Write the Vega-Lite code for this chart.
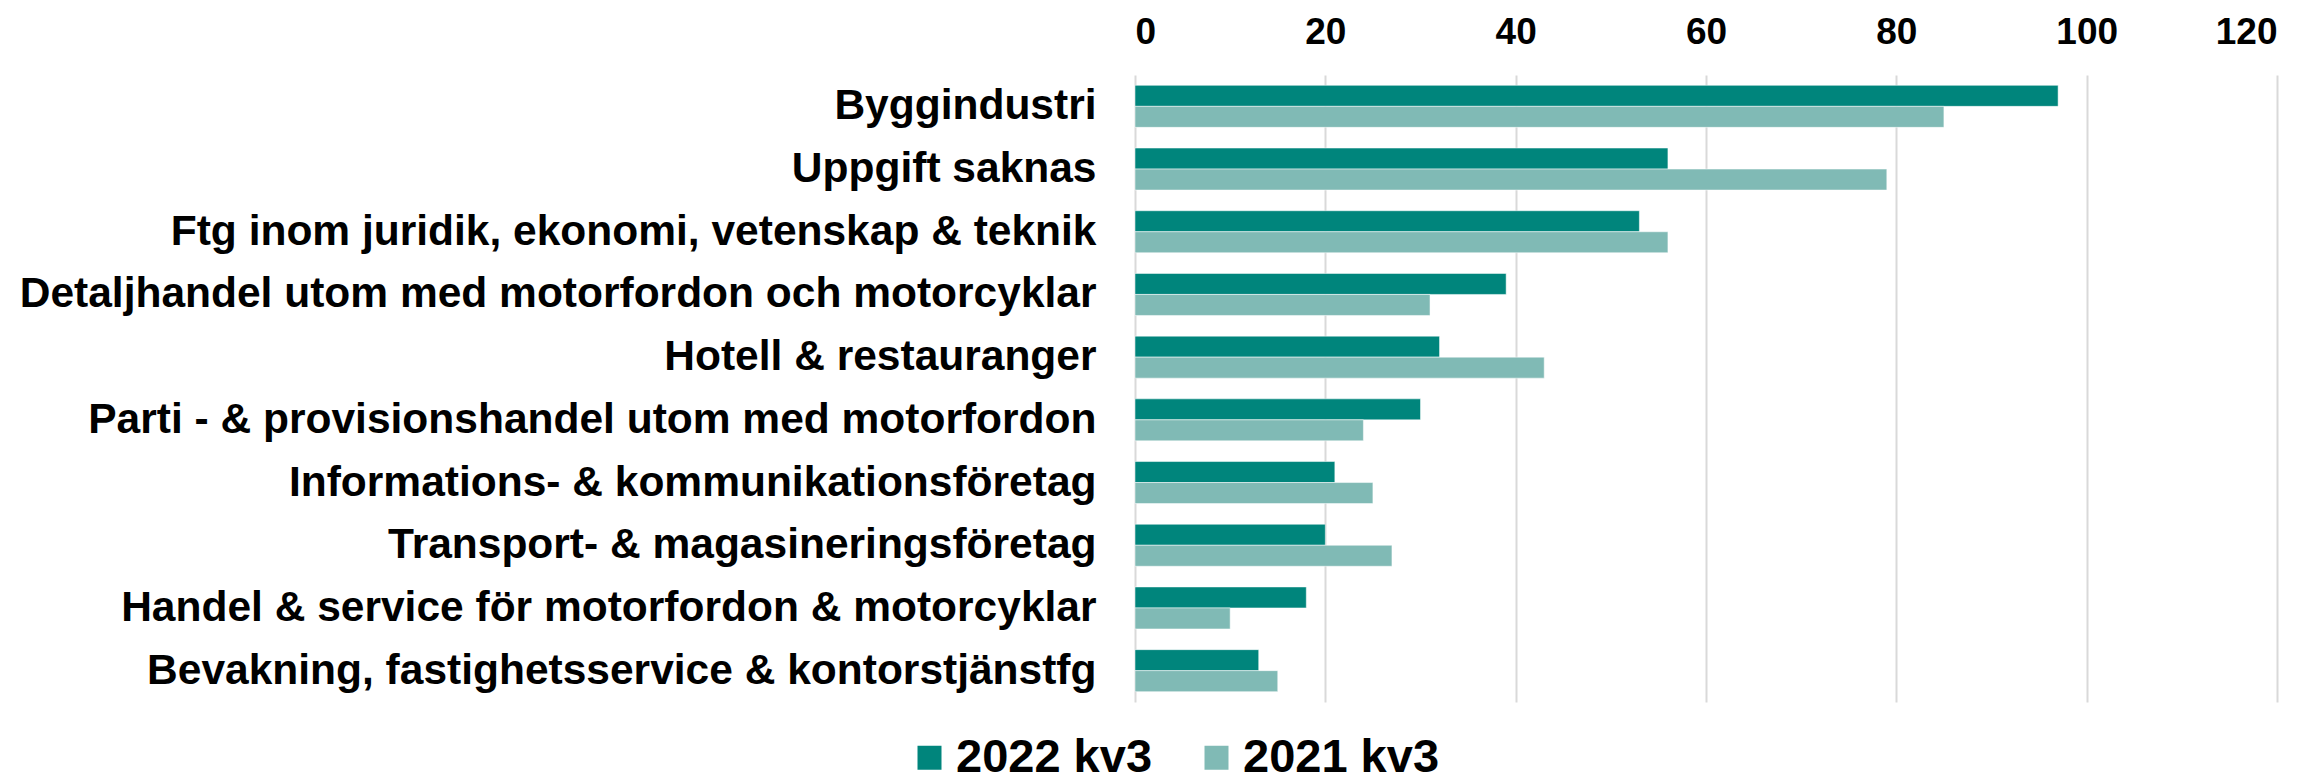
{
  "$schema": "https://vega.github.io/schema/vega-lite/v6.json",
  "width": 1142,
  "height": 627,
  "autosize": {"type": "none"},
  "padding": {"left": 1135, "top": 75, "right": 38, "bottom": 82},
  "background": "white",
  "config": {
    "view": {"stroke": null},
    "font": "Liberation Sans",
    "axis": {"labelFont": "Liberation Sans", "labelFontWeight": "bold", "labelColor": "#000000"},
    "legend": {"padding": 0}
  },
  "data": {
    "values": [
      {"bransch": "Byggindustri", "period": "2022 kv3", "antal": 97},
      {"bransch": "Byggindustri", "period": "2021 kv3", "antal": 85},
      {"bransch": "Uppgift saknas", "period": "2022 kv3", "antal": 56},
      {"bransch": "Uppgift saknas", "period": "2021 kv3", "antal": 79},
      {"bransch": "Ftg inom juridik, ekonomi, vetenskap & teknik", "period": "2022 kv3", "antal": 53},
      {"bransch": "Ftg inom juridik, ekonomi, vetenskap & teknik", "period": "2021 kv3", "antal": 56},
      {"bransch": "Detaljhandel utom med motorfordon och motorcyklar", "period": "2022 kv3", "antal": 39},
      {"bransch": "Detaljhandel utom med motorfordon och motorcyklar", "period": "2021 kv3", "antal": 31},
      {"bransch": "Hotell & restauranger", "period": "2022 kv3", "antal": 32},
      {"bransch": "Hotell & restauranger", "period": "2021 kv3", "antal": 43},
      {"bransch": "Parti - & provisionshandel utom med motorfordon", "period": "2022 kv3", "antal": 30},
      {"bransch": "Parti - & provisionshandel utom med motorfordon", "period": "2021 kv3", "antal": 24},
      {"bransch": "Informations- & kommunikationsföretag", "period": "2022 kv3", "antal": 21},
      {"bransch": "Informations- & kommunikationsföretag", "period": "2021 kv3", "antal": 25},
      {"bransch": "Transport- & magasineringsföretag", "period": "2022 kv3", "antal": 20},
      {"bransch": "Transport- & magasineringsföretag", "period": "2021 kv3", "antal": 27},
      {"bransch": "Handel & service för motorfordon & motorcyklar", "period": "2022 kv3", "antal": 18},
      {"bransch": "Handel & service för motorfordon & motorcyklar", "period": "2021 kv3", "antal": 10},
      {"bransch": "Bevakning, fastighetsservice & kontorstjänstfg", "period": "2022 kv3", "antal": 13},
      {"bransch": "Bevakning, fastighetsservice & kontorstjänstfg", "period": "2021 kv3", "antal": 15}
    ]
  },
  "mark": {"type": "bar", "stroke": "#ffffff", "strokeWidth": 1, "strokeOpacity": 0.5},
  "encoding": {
    "y": {
      "field": "bransch",
      "type": "nominal",
      "sort": null,
      "scale": {"paddingInner": 0.33, "paddingOuter": 0.165},
      "axis": {
        "title": null,
        "domain": false,
        "ticks": false,
        "labelPadding": 39,
        "labelFontSize": 42.5,
        "labelLimit": 1200,
        "labelAlign": "right"
      }
    },
    "yOffset": {
      "field": "period",
      "type": "nominal",
      "sort": ["2022 kv3", "2021 kv3"],
      "scale": {"paddingInner": 0, "paddingOuter": 0}
    },
    "x": {
      "field": "antal",
      "type": "quantitative",
      "scale": {"domain": [0, 120], "nice": false},
      "axis": {
        "orient": "top",
        "title": null,
        "values": [0, 20, 40, 60, 80, 100, 120],
        "domain": false,
        "ticks": false,
        "labelPadding": 24,
        "labelFontSize": 37,
        "grid": true,
        "gridColor": "#D9D9D9",
        "gridWidth": 2
      }
    },
    "color": {
      "field": "period",
      "type": "nominal",
      "scale": {"domain": ["2022 kv3", "2021 kv3"], "range": ["#00857C", "#80BAB5"]},
      "legend": {
        "title": null,
        "orient": "none",
        "direction": "horizontal",
        "legendX": -229,
        "legendY": 659,
        "symbolType": "square",
        "symbolSize": 576,
        "symbolStrokeWidth": 0,
        "labelFontSize": 47,
        "labelFontWeight": "bold",
        "labelFont": "Liberation Sans",
        "labelColor": "#000000",
        "labelOffset": 3,
        "columnPadding": 40,
        "labelLimit": 400
      }
    }
  }
}
